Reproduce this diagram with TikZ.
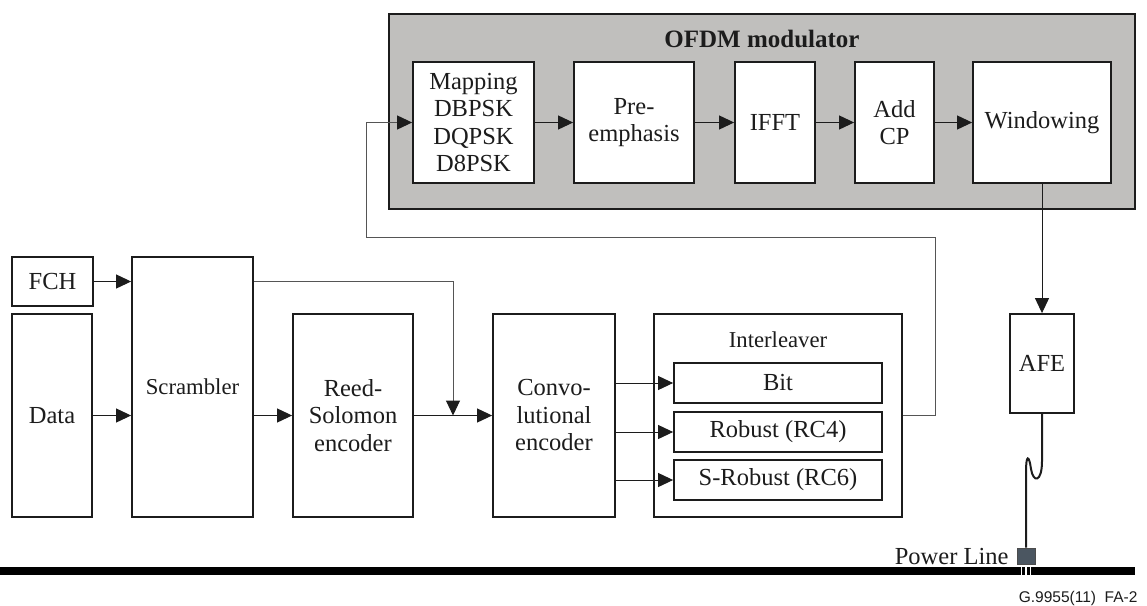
\documentclass[tikz,border=0pt]{standalone}
\usepackage{fontspec}
\setmainfont{Liberation Serif}
\newfontfamily\tagfont{Liberation Sans}
\usetikzlibrary{arrows.meta}
\definecolor{modgray}{RGB}{192,191,189}
\definecolor{plugslate}{RGB}{75,86,97}
\definecolor{ink}{RGB}{28,28,28}
\definecolor{thinink}{RGB}{85,85,85}
\tikzset{
  block/.style={draw=ink, line width=1.8pt, fill=white, inner sep=0pt, align=center, text=ink,
    font=\fontsize{24.5}{27.5}\selectfont},
  link/.style={draw=ink, line width=1pt, -{Triangle[length=15pt,width=14pt,color=ink]}},
  thinlink/.style={link, draw=thinink},
}
\begin{document}
\begin{tikzpicture}[x=1pt, y=-1pt]
	%%%%% FRAME %%%%%
	\useasboundingbox (0,0) rectangle (1147,605);

	%%%%% OFDM MODULATOR %%%%%
	\node[block, fill=modgray, minimum width=746pt, minimum height=195pt] (ofdm) at (762,111.5) {};
	\node[text=ink, font=\fontsize{25}{28}\selectfont\bfseries] (ofdmtitle) at (762,39) {OFDM modulator};

	\node[block, minimum width=121pt, minimum height=121pt] (map) at (473.5,122.5) {Mapping\\DBPSK\\DQPSK\\D8PSK};
	\node[block, minimum width=120pt, minimum height=121pt] (pre) at (634,122.5) {Pre-\\emphasis};
	\node[block, minimum width=80pt, minimum height=121pt] (ifft) at (775,122.5) {IFFT};
	\node[block, minimum width=79pt, minimum height=121pt] (addcp) at (894.5,122.5) {Add\\CP};
	\node[block, minimum width=138pt, minimum height=121pt] (win) at (1042,122.5) {Windowing};

	\draw[link] (map) -- (pre);
	\draw[link] (pre) -- (ifft);
	\draw[link] (ifft) -- (addcp);
	\draw[link] (addcp) -- (win);

	%%%%% ENCODER CHAIN %%%%%
	\node[block, minimum width=81pt, minimum height=49pt] (fch) at (52.5,281.5) {FCH};
	\node[block, minimum width=80pt, minimum height=203pt] (data) at (52,415.5) {Data};
	\node[block, minimum width=121pt, minimum height=260pt, font=\fontsize{22.7}{26}\selectfont] (scr) at (192.5,387) {Scrambler};
	\node[block, minimum width=120pt, minimum height=203pt] (rs) at (353,415.5) {Reed-\\Solomon\\encoder};
	\node[block, minimum width=122pt, minimum height=203pt] (conv) at (554,415.5) {Convo-\\lutional\\encoder};

	\node[block, minimum width=248pt, minimum height=203pt] (inter) at (778,415.5) {};
	\node[text=ink, font=\fontsize{22.7}{26}\selectfont] (interlabel) at (778,340) {Interleaver};
	\node[block, minimum width=208pt, minimum height=40pt] (bit) at (778,383) {Bit};
	\node[block, minimum width=208pt, minimum height=40pt] (robust) at (778,432) {Robust (RC4)};
	\node[block, minimum width=208pt, minimum height=40pt] (srobust) at (778,480) {S-Robust (RC6)};

	\coordinate (join) at (453,415.5);
	\coordinate (fbk) at (366,237);

	\draw[link] (fch) -- (fch -| scr.west);
	\draw[link] (data) -- (data -| scr.west);
	\draw[link] (scr.east |- rs) -- (rs);
	\draw[thinlink] (scr.east |- fch) -| (join);
	\draw[link] (rs) -- (conv);
	\draw[link] (conv.east |- bit) -- (bit);
	\draw[link] (conv.east |- robust) -- (robust);
	\draw[link] (conv.east |- srobust) -- (srobust);

	%%%%% FEEDBACK TO MAPPING %%%%%
	\draw[thinlink] (inter.east) -- ++(33,0) |- (fbk) |- (map.west);

	%%%%% AFE AND POWER LINE %%%%%
	\node[block, minimum width=64pt, minimum height=99pt] (afe) at (1042,363.5) {AFE};
	\draw[link] (win) -- (afe);

	\draw[fill=black, draw=none] (0,567) rectangle (1135,575);
	\node[draw=black!70, line width=0.6pt, fill=plugslate, inner sep=0pt, minimum width=18pt, minimum height=16pt] (plug) at (1026,556) {};
	\foreach \px in {1021.5,1026,1030.5}
		\draw[white, line width=1.6pt] (\px,565) -- (\px,575);
	\draw[ink, line width=2pt] (afe.south) -- ++(0,47)
		.. controls +(0,22) and +(2,14) .. ++(-11,8)
		.. controls +(-2,-14) and +(0,-18) .. ++(-5,3) -- (plug.north);

	\node[text=ink, anchor=base east, font=\fontsize{24.5}{27}\selectfont] (pwr) at (1012,564) {Power Line};
	\node[text=ink, anchor=base east, font=\fontsize{15.5}{18}\tagfont] (figtag) at (1141,602) {G.9955(11)\ \ FA-2};
\end{tikzpicture}
\end{document}
